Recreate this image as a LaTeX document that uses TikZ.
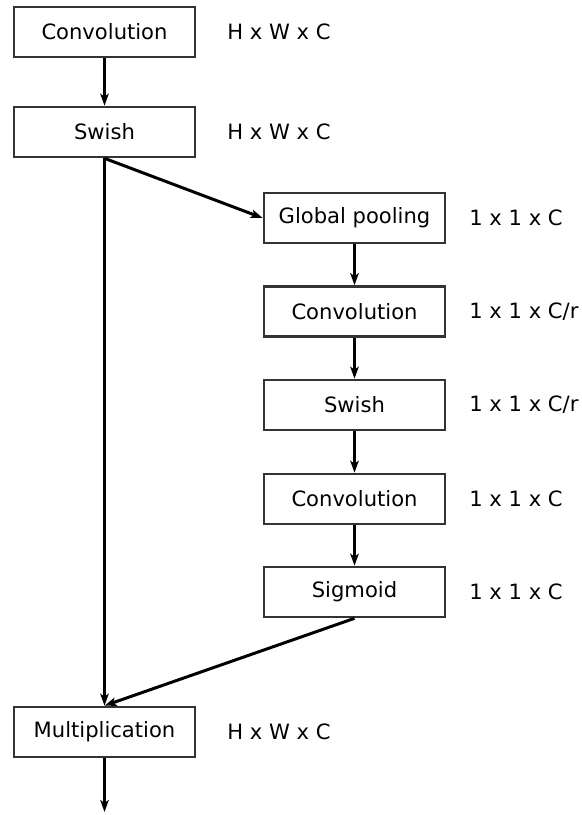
\documentclass[tikz,border=0pt]{standalone}
\usepackage{fontspec}
\setmainfont{DejaVu Sans}
\usetikzlibrary{arrows.meta}

\begin{document}
\begin{tikzpicture}[
        box/.style={draw=black!80,line width=1.5pt,minimum width=3.62cm,minimum height=1.0cm,inner sep=0pt,font=\fontsize{12}{14}\selectfont},
        lbl/.style={anchor=west,inner sep=0pt,font=\fontsize{12}{14}\selectfont},
        arr/.style={line width=1.7pt,-{Stealth[length=0.24cm,width=0.17cm,inset=0.06cm]}}]
                \useasboundingbox (0,0) rectangle (11.62,-16.3);

                % main branch
                \node[box] (conv1) at(2.09,-0.64) {Convolution};
                \node[box] (swish1) at(2.09,-2.64) {Swish};
                \node[box] (mult) at(2.09,-14.64) {Multiplication};
                \coordinate (out) at(2.09,-16.24);

                \node[lbl] (l1) at(4.54,-0.64) {H x W x C};
                \node[lbl] (l2) at(4.54,-2.64) {H x W x C};
                \node[lbl] (l8) at(4.54,-14.64) {H x W x C};

                % squeeze and excitation
                \node[box] (pool) at(7.09,-4.36) {Global pooling};
                \node[box] (conv2) at(7.09,-6.23) {Convolution};
                \node[box] (swish2) at(7.09,-8.10) {Swish};
                \node[box] (conv3) at(7.09,-9.98) {Convolution};
                \node[box] (sig) at(7.09,-11.84) {Sigmoid};

                \node[lbl] (l3) at(9.38,-4.36) {1 x 1 x C};
                \node[lbl] (l4) at(9.38,-6.23) {1 x 1 x C/r};
                \node[lbl] (l5) at(9.38,-8.10) {1 x 1 x C/r};
                \node[lbl] (l6) at(9.38,-9.98) {1 x 1 x C};
                \node[lbl] (l7) at(9.38,-11.84) {1 x 1 x C};

                \draw[arr] (conv1) -- (swish1);
                \draw[arr] (swish1) -- (mult);
                \draw[arr] (swish1.south) -- (pool.west);
                \draw[arr] (pool) -- (conv2);
                \draw[arr] (conv2) -- (swish2);
                \draw[arr] (swish2) -- (conv3);
                \draw[arr] (conv3) -- (sig);
                \draw[arr] (sig.south) -- (mult.north);
                \draw[arr] (mult) -- (out);
            \end{tikzpicture}
\end{document}
